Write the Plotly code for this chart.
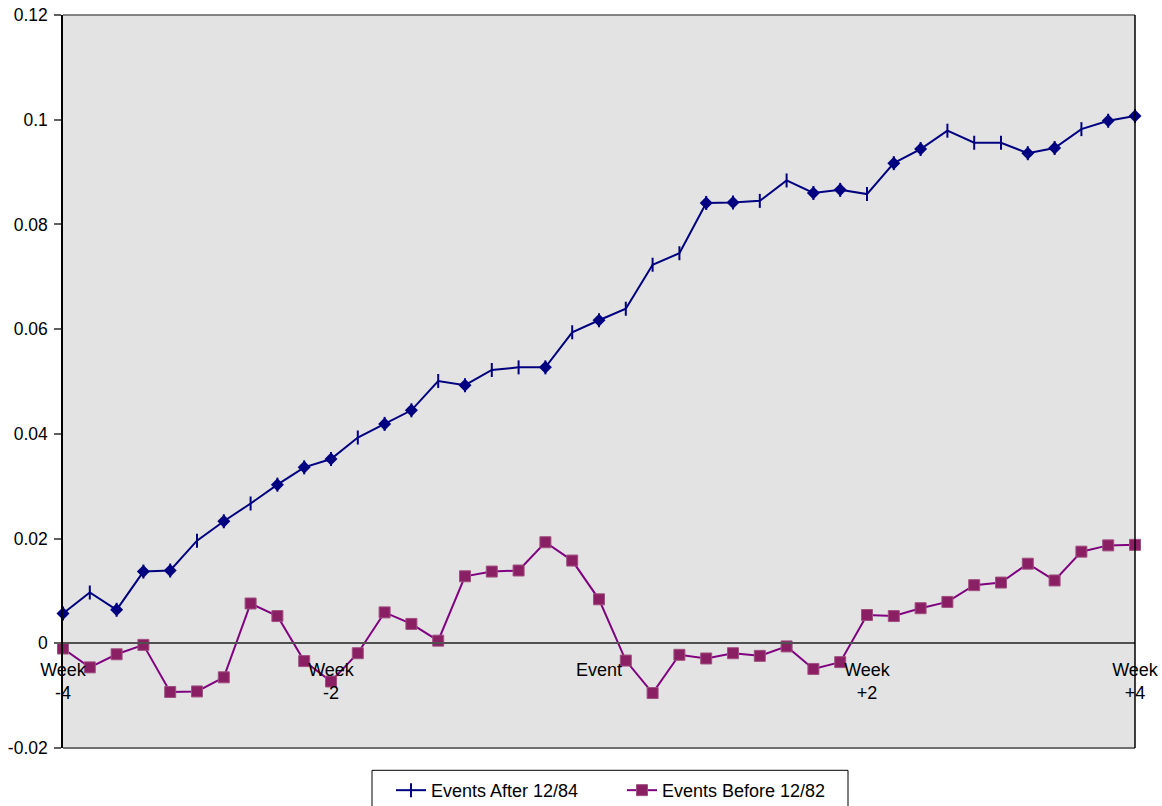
import plotly.graph_objects as go

# ---- data ----
x_index = list(range(41))
after_84 = [0.0057, 0.0097, 0.0064, 0.0137, 0.0139, 0.0196, 0.0233, 0.0267, 0.0303, 0.0336,
            0.0352, 0.0393, 0.0419, 0.0445, 0.0501, 0.0493, 0.0522, 0.0527, 0.0527, 0.0594,
            0.0617, 0.0639, 0.0723, 0.0745, 0.0841, 0.0842, 0.0845, 0.0884, 0.0860, 0.0866,
            0.0858, 0.0917, 0.0944, 0.0979, 0.0956, 0.0956, 0.0936, 0.0946, 0.0982, 0.0998,
            0.1007]
before_82 = [-0.0010, -0.0046, -0.0021, -0.0003, -0.0093, -0.0092, -0.0065, 0.0076, 0.0052, -0.0034,
             -0.0073, -0.0019, 0.0059, 0.0037, 0.0005, 0.0128, 0.0137, 0.0139, 0.0193, 0.0158,
             0.0084, -0.0033, -0.0095, -0.0022, -0.0029, -0.0019, -0.0024, -0.0006, -0.0049, -0.0036,
             0.0054, 0.0052, 0.0067, 0.0079, 0.0111, 0.0116, 0.0152, 0.0120, 0.0175, 0.0187,
             0.0188]
# points of the first series that carry a diamond marker
diamond_idx = [0, 2, 3, 4, 6, 8, 9, 10, 12, 13, 15, 18, 20, 24, 25, 28, 29, 31, 32, 36, 37, 39, 40]

x_tick_vals = [0, 10, 20, 30, 40]
x_tick_text = ["Week<br>-4", "Week<br>-2", "Event", "Week<br>+2", "Week<br>+4"]
y_tick_vals = [-0.02, 0, 0.02, 0.04, 0.06, 0.08, 0.1, 0.12]
y_tick_text = ["-0.02", "0", "0.02", "0.04", "0.06", "0.08", "0.1", "0.12"]

NAVY = "#000080"
PURPLE = "#800080"
SQ = "#8B1F63"
FONT = "Liberation Sans, Arial, sans-serif"

fig = go.Figure()
fig.add_trace(go.Scatter(
    x=x_index, y=after_84, name="Events After 12/84", mode="lines+markers",
    line=dict(color=NAVY, width=2),
    marker=dict(symbol="line-ns", size=10, color=NAVY, line=dict(color=NAVY, width=2)),
    cliponaxis=False,
))
fig.add_trace(go.Scatter(
    x=[x_index[i] for i in diamond_idx], y=[after_84[i] for i in diamond_idx],
    mode="markers", showlegend=False,
    marker=dict(symbol="diamond", size=10, color=NAVY, line=dict(width=0)),
    cliponaxis=False,
))
fig.add_trace(go.Scatter(
    x=x_index, y=before_82, name="Events Before 12/82", mode="lines+markers",
    line=dict(color=PURPLE, width=2),
    marker=dict(symbol="square", size=11, color=SQ, line=dict(color="#A05080", width=1)),
    cliponaxis=False,
))

# plot-area border
fig.add_shape(type="line", xref="paper", yref="paper", x0=0, x1=1, y0=1, y1=1,
              line=dict(color="#606060", width=1.5), layer="above")
fig.add_shape(type="line", xref="paper", yref="paper", x0=0, x1=1, y0=0, y1=0,
              line=dict(color="#707070", width=2), layer="above")
fig.add_shape(type="line", xref="paper", yref="paper", x0=1, x1=1, y0=0, y1=1,
              line=dict(color="black", width=1.5), layer="above")
# legend frame
fig.add_shape(type="rect", xref="paper", yref="paper",
              x0=(372 - 63) / 1072, x1=(848 - 63) / 1072,
              y0=-(770 - 747.7) / 732.7, y1=-(820 - 747.7) / 732.7,
              line=dict(color="black", width=1), fillcolor="white", layer="below")

zero_pos = (0 - (-0.02)) / 0.14

fig.update_layout(
    width=1162, height=806,
    margin=dict(l=63, r=27, t=15, b=58, autoexpand=False),
    paper_bgcolor="white", plot_bgcolor="#E3E3E3",
    font=dict(family=FONT, size=18, color="black"),
    showlegend=True,
    legend=dict(orientation="h", x=(391 - 63) / 1072, xanchor="left", y=-0.0327, yanchor="top",
                borderwidth=0, bgcolor="rgba(0,0,0,0)",
                font=dict(size=18), entrywidth=186, entrywidthmode="pixels"),
    xaxis=dict(range=[0, 40], showgrid=False, zeroline=False,
               anchor="free", position=zero_pos,
               showline=True, linecolor="#505050", linewidth=1.5,
               tickvals=x_tick_vals, ticktext=x_tick_text, ticks="",
               ticklabelstandoff=10, tickangle=0),
    yaxis=dict(range=[-0.02, 0.12], showgrid=False, zeroline=False,
               showline=True, linecolor="black", linewidth=1.5,
               tickvals=y_tick_vals, ticktext=y_tick_text,
               ticks="outside", ticklen=7, tickcolor="#606060", tickwidth=1.5,
               ticklabelstandoff=3, tickfont=dict(size=17.5)),
)

fig.write_html("out.html")
